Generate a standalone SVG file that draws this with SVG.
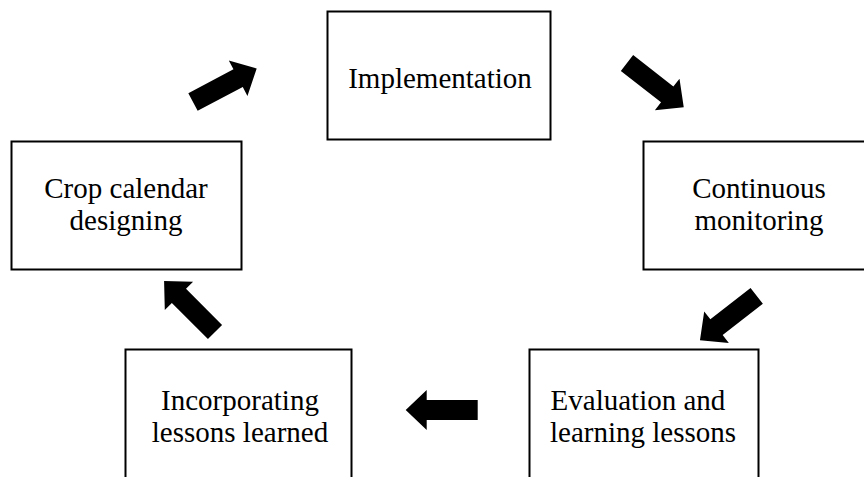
<svg xmlns="http://www.w3.org/2000/svg" width="864" height="477" viewBox="0 0 864 477">
<style>
.box{fill:#fff;stroke:#000;stroke-width:2}
.lbl{font-family:"Liberation Serif","Times New Roman",serif;font-size:29px;fill:#000;text-anchor:middle}
.arr{fill:#000}
</style>
<defs>
<polygon id="blk" points="0,-10 51,-10 51,-20 72,0 51,20 51,10 0,10"/>
</defs>
<rect width="864" height="477" fill="#fff"/>
<g id="implementation">
<rect class="box" x="327.5" y="11.5" width="223" height="128"/>
<text class="lbl" x="440" y="88">Implementation</text>
</g>
<g id="crop-calendar">
<rect class="box" x="11.5" y="141.5" width="230" height="128"/>
<text class="lbl" x="126" y="198">Crop calendar</text>
<text class="lbl" x="126" y="230">designing</text>
</g>
<g id="continuous-monitoring">
<rect class="box" x="643.5" y="141.5" width="232" height="128"/>
<text class="lbl" x="759" y="198">Continuous</text>
<text class="lbl" x="759" y="230">monitoring</text>
</g>
<g id="evaluation">
<rect class="box" x="529.5" y="349.5" width="229" height="140"/>
<text class="lbl" x="638" y="410">Evaluation and</text>
<text class="lbl" x="643" y="442">learning lessons</text>
</g>
<g id="incorporating">
<rect class="box" x="125.5" y="349.5" width="226" height="140"/>
<text class="lbl" x="240" y="410">Incorporating</text>
<text class="lbl" x="240" y="442">lessons learned</text>
</g>
<g id="connectors" class="arr">
<use href="#blk" transform="translate(193,102) rotate(-27.8)"/>
<use href="#blk" transform="translate(627,63) rotate(38)"/>
<use href="#blk" transform="translate(756.7,295.8) rotate(142)"/>
<use href="#blk" transform="translate(477.7,410) rotate(180)"/>
<use href="#blk" transform="translate(215,332) rotate(225)"/>
</g>
</svg>
